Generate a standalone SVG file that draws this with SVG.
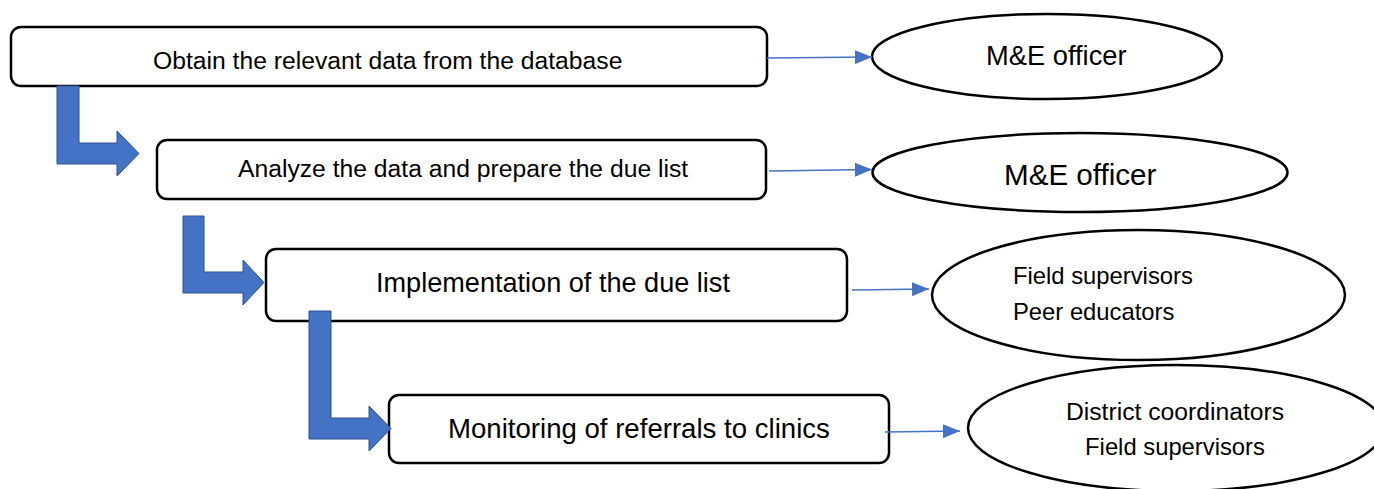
<svg xmlns="http://www.w3.org/2000/svg" width="1374" height="489" viewBox="0 0 1374 489">
<style>
.box{fill:#fff;stroke:#000;stroke-width:2.5}
.ell{fill:#fff;stroke:#000;stroke-width:2.5}
.bent{fill:#4472C4;stroke:#2F528F;stroke-width:1}
.conn{fill:none;stroke:#4472C4;stroke-width:1.3}
text{font-family:"Liberation Sans",Arial,sans-serif;fill:#000}
</style>
<defs>
<marker id="ah" markerUnits="userSpaceOnUse" markerWidth="17" markerHeight="14" refX="17" refY="7" orient="auto">
<path d="M0,0 L17,7 L0,14 Z" fill="#4472C4"/>
</marker>
</defs>
<rect width="1374" height="489" fill="#fff"/>
<g id="box1">
<rect class="box" x="11" y="27" width="756" height="59" rx="10"/>
<text x="153" y="69" font-size="24.7">Obtain the relevant data from the database</text>
</g>
<g id="box2">
<rect class="box" x="157" y="140" width="609" height="59" rx="10"/>
<text x="238" y="177" font-size="24.7">Analyze the data and prepare the due list</text>
</g>
<g id="box3">
<rect class="box" x="266" y="249" width="581" height="72" rx="10"/>
<text x="376" y="292" font-size="27.1">Implementation of the due list</text>
</g>
<g id="box4">
<rect class="box" x="389" y="395" width="500" height="68" rx="10"/>
<text x="448" y="438" font-size="27.6">Monitoring of referrals to clinics</text>
</g>
<g id="ell1">
<ellipse class="ell" cx="1047" cy="56.5" rx="175" ry="42.5"/>
<text x="986" y="65" font-size="27.3">M&amp;E officer</text>
</g>
<g id="ell2">
<ellipse class="ell" cx="1080" cy="172.5" rx="207.5" ry="39.5"/>
<text x="1004" y="185" font-size="29.6">M&amp;E officer</text>
</g>
<g id="ell3">
<ellipse class="ell" cx="1138.5" cy="295" rx="206.5" ry="65"/>
<text x="1013" y="284" font-size="23.8">Field supervisors</text>
<text x="1013" y="320" font-size="23.8">Peer educators</text>
</g>
<g id="ell4">
<ellipse class="ell" cx="1176" cy="428" rx="208" ry="63"/>
<text x="1175" y="420" font-size="24.7" text-anchor="middle">District coordinators</text>
<text x="1175" y="455" font-size="23.8" text-anchor="middle">Field supervisors</text>
</g>
<g id="connectors">
<polygon class="bent" points="57,86 79,86 79,143 117,143 117,131 139,153.5 117,176 117,164 57,164"/>
<polygon class="bent" points="183,216 204,216 204,272 243,272 243,260 264,282.5 243,305 243,293 183,293"/>
<polygon class="bent" points="309,311 331,311 331,418 369,418 369,406 391,428.5 369,451 369,439 309,439"/>
<line class="conn" x1="767" y1="58" x2="872" y2="57" marker-end="url(#ah)"/>
<line class="conn" x1="769" y1="171" x2="872" y2="169.5" marker-end="url(#ah)"/>
<line class="conn" x1="852" y1="290" x2="929" y2="289" marker-end="url(#ah)"/>
<line class="conn" x1="885" y1="432" x2="960" y2="431" marker-end="url(#ah)"/>
</g>
</svg>
